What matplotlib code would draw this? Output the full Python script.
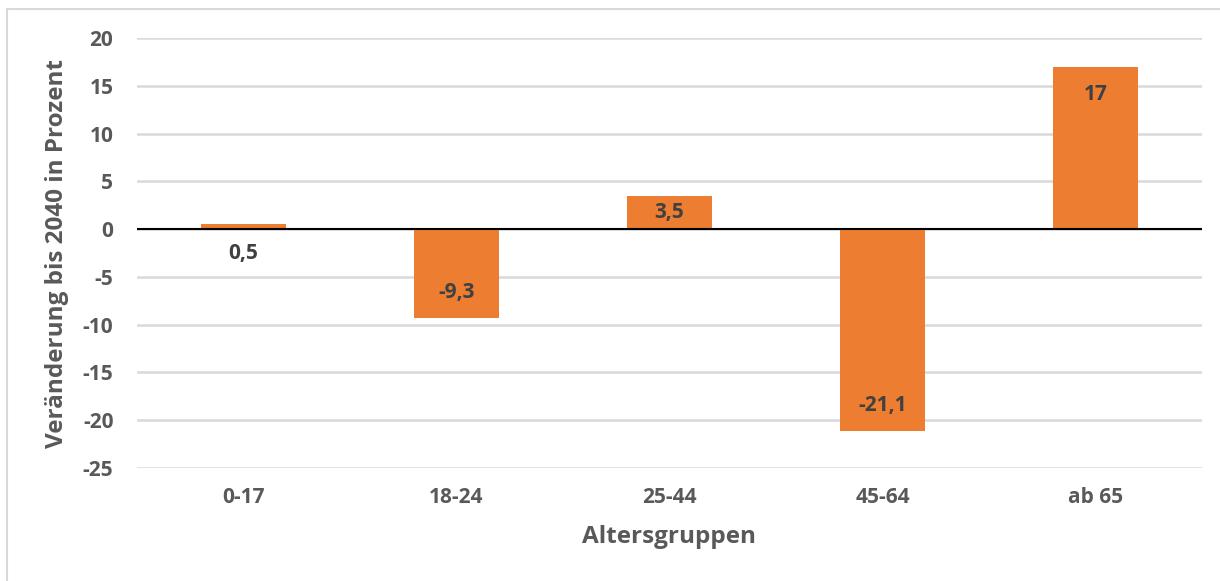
import matplotlib.pyplot as plt
from matplotlib.patches import Rectangle

# data
groups = ['0-17', '18-24', '25-44', '45-64', 'ab 65']
values = [0.5, -9.3, 3.5, -21.1, 17]
labels = ['0,5', '-9,3', '3,5', '-21,1', '17']
yticks = [20, 15, 10, 5, 0, -5, -10, -15, -20, -25]

BAR_COLOR = '#ED7D31'
GRID_COLOR = '#d9d9d9'
TEXT_COLOR = '#595959'
LABEL_COLOR = '#404040'

plt.rcParams['font.family'] = ['Open Sans', 'DejaVu Sans']

W, H = 1220, 581
fig = plt.figure(figsize=(W / 100, H / 100), dpi=100)

# light frame around the chart area
fig.patches.append(Rectangle((7 / W, -0.1), 1.2, (H - 9) / H + 0.1,
                             transform=fig.transFigure, fill=False,
                             edgecolor='#d9d9d9', linewidth=1.5))

ax = fig.add_axes([137 / W, (H - 468) / H, (1202 - 137) / W, (468 - 38) / H])

x = range(len(groups))
ax.bar(x, values, width=0.4, color=BAR_COLOR, zorder=2)
ax.axhline(0, color='black', linewidth=1.5, zorder=3)

ax.set_ylim(-25, 20)
ax.set_xlim(-0.5, len(groups) - 0.5)
ax.set_yticks(yticks)
ax.set_yticklabels([str(t) for t in yticks])
ax.set_xticks(list(x))
ax.set_xticklabels(groups)
ax.yaxis.grid(True, color=GRID_COLOR, linewidth=1.8, zorder=0)
ax.set_axisbelow(True)
for s in ax.spines.values():
    s.set_visible(False)
ax.tick_params(axis='both', length=0, labelsize=15, labelcolor=TEXT_COLOR)
ax.tick_params(axis='x', pad=14)
ax.tick_params(axis='y', pad=17)
for t in ax.get_xticklabels() + ax.get_yticklabels():
    t.set_fontweight('bold')

ax.set_ylabel('Veränderung bis 2040 in Prozent', fontsize=17.5, fontweight='bold',
              color=TEXT_COLOR, labelpad=10)
ax.set_xlabel('Altersgruppen', fontsize=17.5, fontweight='bold',
              color=TEXT_COLOR, labelpad=12)

# data labels (inside end, small bars handled separately)
LBL = dict(ha='center', va='center', fontsize=15, fontweight='bold',
           color=LABEL_COLOR, zorder=4)
for i, (v, lab) in enumerate(zip(values, labels)):
    if abs(v) >= 5:
        off = -28 if v > 0 else 25
        ax.annotate(lab, (i, v), xytext=(0, off), textcoords='offset pixels', **LBL)
    elif v >= 1:
        ax.annotate(lab, (i, v / 2), **LBL)
    else:
        ax.annotate(lab, (i, 0), xytext=(0, -24), textcoords='offset pixels', **LBL)

fig.savefig('out.png', dpi=100, facecolor='white')
